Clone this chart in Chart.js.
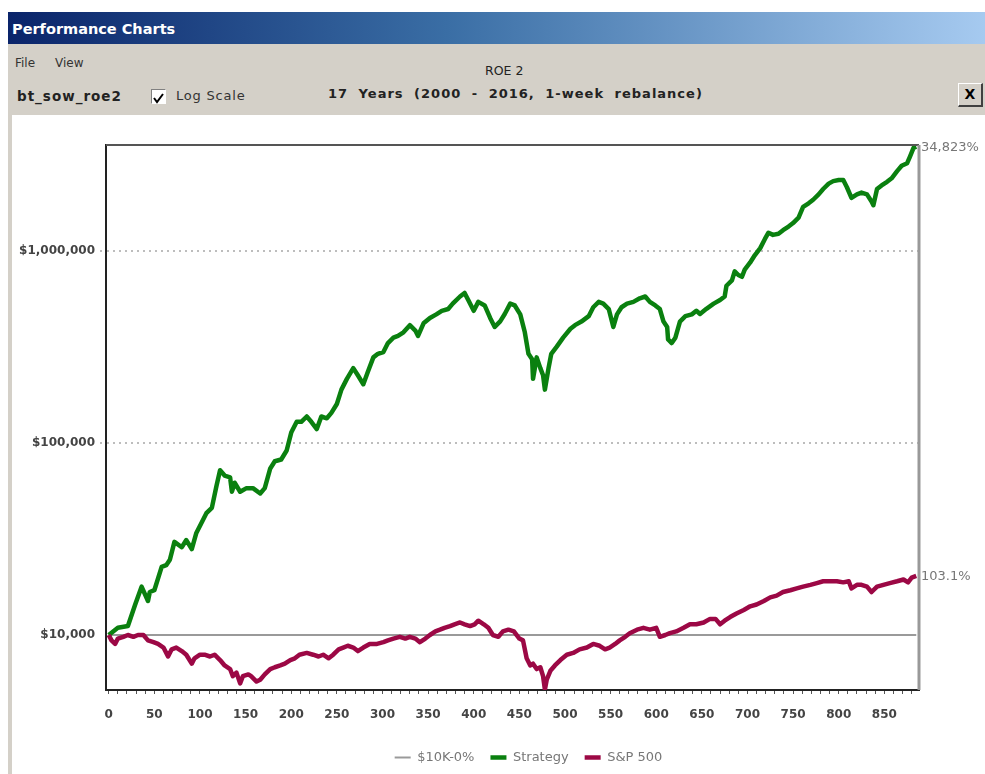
<!DOCTYPE html>
<html>
<head>
<meta charset="utf-8">
<title>Performance Charts</title>
<script src="https://cdn.jsdelivr.net/npm/chart.js@4.4.1/dist/chart.umd.min.js"></script>
<style>
  body { margin: 0; background: #fff; font-family: "DejaVu Sans", sans-serif; }
  #win { position: absolute; left: 8px; top: 12px; width: 977px; height: 762px; background: #d4d0c8; overflow: hidden; }
  #titlebar { position: absolute; left: 0; top: 0; width: 977px; height: 32px; padding-left: 4px; box-sizing: border-box;
    background: linear-gradient(to right, #0a246a, #3a6ea5 45%, #a6caf0); color: #fff; font-weight: bold; font-size: 14.5px; line-height: 34px; }
  .lbl { position: absolute; color: #222; white-space: nowrap; }
  #check { position: absolute; left: 143px; top: 77px; width: 13px; height: 13px; background: #fff;
    border-top: 1px solid #808080; border-left: 1px solid #808080; border-right: 1px solid #fff; border-bottom: 1px solid #fff; }
  #close { position: absolute; left: 950px; top: 71px; width: 22px; height: 21px; background: #d4d0c8;
    border-top: 1px solid #fff; border-left: 1px solid #fff; border-right: 2px solid #404040; border-bottom: 2px solid #404040;
    font-weight: bold; font-size: 14px; line-height: 21px; text-align: center; color: #000; }
  #plot { position: absolute; left: 4px; top: 103px; width: 973px; height: 659px; background: #fff; }
</style>
</head>
<body>
<div id="win">
  <div id="titlebar">Performance Charts</div>
  <div class="lbl" style="left:7px; top:44px; font-size:12px; color:#333;">File</div>
  <div class="lbl" style="left:47px; top:44px; font-size:12px; color:#333;">View</div>
  <div class="lbl" style="left:9px; top:76px; font-size:13.5px; font-weight:bold; letter-spacing:1px;">bt_sow_roe2</div>
  <div id="check"><svg width="13" height="13"><polyline points="2,6 5,10 11,2" fill="none" stroke="#000" stroke-width="2"/></svg></div>
  <div class="lbl" style="left:168px; top:76px; font-size:13px; color:#333; letter-spacing:0.8px;">Log Scale</div>
  <div class="lbl" style="left:477px; top:51px; font-size:12.5px;">ROE 2</div>
  <div class="lbl" style="left:320px; top:74px; font-size:13px; font-weight:bold; letter-spacing:1px; word-spacing:5px;">17 Years (2000 - 2016, 1-week rebalance)</div>
  <div id="close">X</div>
  <div id="plot"><canvas id="chart" width="973" height="659"></canvas></div>
</div>
<script>
// weeks since start and portfolio value ($)
const stratWeeks = [0, 10, 21, 25, 29, 36, 43, 45, 50, 58, 63, 67, 72, 80, 85, 91, 96, 102, 107, 113,
  118, 122, 127, 133, 135, 138, 144, 151, 158, 166, 171, 177, 182, 189, 195, 200, 206, 211, 217, 222,
  228, 233, 239, 244, 250, 255, 261, 268, 273, 279, 284, 290, 295, 301, 306, 312, 317, 323, 330, 336,
  339, 345, 352, 359, 365, 372, 377, 385, 390, 394, 400, 405, 412, 418, 423, 429, 434, 440, 445, 451,
  456, 460, 464, 465, 469, 473, 476, 478, 482, 485, 491, 498, 506, 511, 518, 526, 531, 537, 542, 548,
  553, 557, 562, 568, 575, 582, 588, 593, 599, 604, 608, 612, 613, 617, 621, 626, 632, 639, 644, 648,
  655, 663, 670, 675, 677, 683, 686, 690, 694, 697, 703, 708, 714, 719, 723, 728, 734, 739, 745, 750,
  756, 761, 767, 772, 778, 783, 789, 794, 800, 805, 809, 814, 820, 825, 831, 836, 838, 842, 847, 853,
  858, 864, 869, 875, 878, 882, 885];
const stratValues = [10000, 10900, 11130, 12670, 14410, 17860, 15040, 16750, 17110, 22620, 23110, 24650, 30560, 28650, 31220, 28040, 34020, 38700, 43080, 45950,
  59470, 72150, 67660, 66220, 55760, 62090, 55760, 58200, 58200, 54570, 58200, 73700, 80340, 82080, 91380, 113300, 128900, 128900, 137400, 128900,
  118200, 137400, 134500, 143500, 159700, 189700, 215800, 245500, 225300, 202300, 235000, 279200, 291500, 297800, 331600, 353700, 361300, 377200, 411000, 385300,
  361300, 420000, 448000, 467600, 488000, 498600, 531800, 579400, 604900, 555300, 488000, 543300, 520400, 448000, 402200, 430000, 470000, 531800, 520400, 467600,
  377200, 291500, 273300, 215800, 279200, 245500, 225300, 189700, 245500, 291500, 317700, 353700, 393600, 411000, 429000, 457600, 509400, 543300, 531800, 498600,
  402200, 467600, 509400, 531800, 543300, 567100, 579400, 543300, 520400, 498600, 429000, 402200, 346100, 331600, 353700, 429000, 457600, 467600, 488000, 470000,
  500000, 531800, 555300, 579400, 659200, 703100, 782900, 750000, 734000, 799800, 871400, 949700, 1035000, 1152000, 1245000, 1213000, 1229000, 1283000, 1340000, 1398000,
  1491000, 1697000, 1771000, 1849000, 1972000, 2103000, 2243000, 2311000, 2341000, 2341000, 2148000, 1889000, 1972000, 2015000, 1972000, 1810000, 1733000, 2103000, 2195000, 2292000,
  2392000, 2606000, 2780000, 2865000, 3095000, 3446000, 3492300];

const spWeeks = [0, 3, 7, 10, 16, 21, 27, 32, 38, 43, 49, 54, 60, 65, 69, 74, 80, 85, 91, 94,
  100, 105, 111, 116, 122, 127, 133, 136, 140, 144, 147, 153, 156, 162, 166, 171, 177, 182, 188, 193,
  199, 204, 209, 217, 224, 230, 235, 241, 246, 252, 257, 262, 268, 273, 279, 286, 294, 301, 306, 312,
  319, 325, 330, 336, 341, 347, 352, 358, 363, 368, 374, 379, 385, 390, 396, 401, 405, 411, 416, 421,
  427, 432, 438, 444, 450, 454, 458, 462, 465, 469, 473, 476, 478, 480, 484, 489, 495, 502, 509, 516,
  524, 531, 538, 544, 549, 555, 560, 566, 571, 579, 586, 593, 600, 604, 610, 615, 622, 630, 637, 644,
  652, 659, 665, 670, 675, 681, 688, 696, 703, 710, 718, 725, 732, 739, 747, 754, 761, 769, 776, 783,
  791, 798, 805, 811, 814, 820, 825, 831, 836, 842, 849, 856, 864, 871, 876, 880, 885];
const spValues = [10000, 9376, 8983, 9580, 9788, 10000, 9788, 10000, 10000, 9376, 9178, 8983, 8603, 7727, 8421, 8603, 8245, 7894, 7090, 7562,
  7894, 7894, 7727, 7894, 7406, 6940, 6647, 6101, 6370, 5599, 6101, 6234, 6101, 5722, 5846, 6234, 6647, 6794, 6940, 7090,
  7406, 7562, 7894, 8065, 7894, 7727, 7894, 7562, 7894, 8421, 8603, 8790, 8603, 8245, 8603, 8983, 8983, 9178, 9376, 9580,
  9788, 9580, 9788, 9580, 9178, 9580, 10000, 10440, 10660, 10900, 11130, 11370, 11620, 11370, 11130, 11370, 11870, 11370, 10900, 10000,
  9788, 10440, 10660, 10440, 9580, 9376, 7562, 6940, 7090, 6647, 6794, 6101, 5200, 5846, 6508, 6940, 7406, 7894, 8065, 8421,
  8603, 8983, 8790, 8421, 8603, 8983, 9376, 9788, 10220, 10660, 10900, 10660, 10900, 9788, 10000, 10220, 10440, 10900, 11370, 11370,
  11620, 12130, 12130, 11370, 11870, 12400, 12940, 13510, 14110, 14410, 15040, 15700, 16040, 16750, 17110, 17480, 17860, 18250, 18640, 19050,
  19050, 19050, 18800, 19050, 17480, 18250, 18250, 17860, 16750, 17860, 18250, 18640, 19050, 19460, 18800, 19890, 20310];

const baseWeeks = [0, 885];
const baseValues = [10000, 10000];

const yTicks = [10000, 100000, 1000000];

function toPoints(xs, ys) {
  return xs.map((x, i) => ({ x: x, y: ys[i] }));
}

// total return label for the end of a line
function pctLabel(values) {
  const pct = (values[values.length - 1] / values[0] - 1) * 100;
  return pct >= 1000 ? Math.round(pct).toLocaleString('en-US') + '%' : pct.toFixed(1) + '%';
}

const endLabels = {
  id: 'endLabels',
  afterDatasetsDraw(chart) {
    const { ctx, chartArea } = chart;
    ctx.save();
    ctx.font = '13px "DejaVu Sans"';
    ctx.fillStyle = '#777';
    ctx.textBaseline = 'middle';
    chart.data.datasets.forEach(ds => {
      if (!ds.endLabel) return;
      const last = ds.data[ds.data.length - 1];
      ctx.fillText(ds.endLabel, chartArea.right + 2, chart.scales.y.getPixelForValue(last.y) + 1);
    });
    ctx.restore();
  }
};

// top and right edge of the plot box, legend nudge
const frame = {
  id: 'frame',
  afterLayout(chart) {
    chart.legend.left += 63;
    chart.legend.right += 63;
  },
  afterDraw(chart) {
    const { ctx, chartArea: a } = chart;
    ctx.save();
    ctx.lineWidth = 2;
    ctx.strokeStyle = '#555';
    ctx.beginPath(); ctx.moveTo(a.left, a.top); ctx.lineTo(a.right, a.top); ctx.stroke();
    ctx.strokeStyle = '#999';
    ctx.lineWidth = 3;
    ctx.beginPath(); ctx.moveTo(a.right, a.top); ctx.lineTo(a.right, a.bottom); ctx.stroke();
    ctx.restore();
  }
};

const chart = new Chart(document.getElementById('chart'), {
  type: 'line',
  data: {
    datasets: [{
      label: '$10K-0%',
      data: toPoints(baseWeeks, baseValues),
      borderColor: '#9a9a9a',
      backgroundColor: '#9a9a9a',
      borderWidth: 2,
      pointRadius: 0,
      order: 3
    }, {
      label: 'Strategy',
      data: toPoints(stratWeeks, stratValues),
      borderColor: '#0a800f',
      backgroundColor: '#0a800f',
      borderWidth: 4.5,
      pointRadius: 0,
      borderJoinStyle: 'round',
      endLabel: pctLabel(stratValues),
      order: 2
    }, {
      label: 'S&P 500',
      data: toPoints(spWeeks, spValues),
      borderColor: '#9c0845',
      backgroundColor: '#9c0845',
      borderWidth: 4.5,
      pointRadius: 0,
      borderJoinStyle: 'round',
      endLabel: pctLabel(spValues),
      order: 1
    }]
  },
  options: {
    responsive: false,
    animation: false,
    layout: { padding: { left: 0, right: 66, top: 30, bottom: 0 } },
    scales: {
      x: {
        type: 'linear',
        min: -3,
        max: 888,
        border: { color: '#222', width: 2 },
        grid: { drawOnChartArea: false, tickLength: 4, color: '#555' },
        ticks: {
          stepSize: 10,
          includeBounds: false,
          autoSkip: false,
          maxRotation: 0,
          padding: 14,
          color: '#444',
          font: { family: 'DejaVu Sans', size: 12, weight: 'bold' },
          callback: v => (v % 50 === 0 ? v : '')
        },
        afterFit: s => { s.height = 45; }
      },
      y: {
        type: 'logarithmic',
        min: 5171,
        max: 3565000,
        border: { color: '#222', width: 2, dash: [2, 4] },
        grid: {
          color: c => (c.tick && c.tick.value === 10000 ? 'rgba(0,0,0,0)' : '#bdbdbd'),
          lineWidth: 2,
          tickLength: 6,
          tickBorderDash: [2, 4]
        },
        ticks: {
          padding: 5,
          color: '#444',
          font: { family: 'DejaVu Sans', size: 12, weight: 'bold' },
          callback: v => '$' + v.toLocaleString('en-US')
        },
        afterBuildTicks: s => { s.ticks = yTicks.map(v => ({ value: v })); },
        afterFit: s => { s.width = 94; }
      }
    },
    plugins: {
      legend: {
        position: 'bottom',
        labels: {
          usePointStyle: true,
          pointStyle: 'line',
          pointStyleWidth: 16,
          padding: 16,
          color: '#777',
          font: { family: 'DejaVu Sans', size: 13 },
          sort: (a, b) => a.datasetIndex - b.datasetIndex
        }
      },
      tooltip: { enabled: false }
    }
  },
  plugins: [endLabels, frame]
});
</script>
</body>
</html>
